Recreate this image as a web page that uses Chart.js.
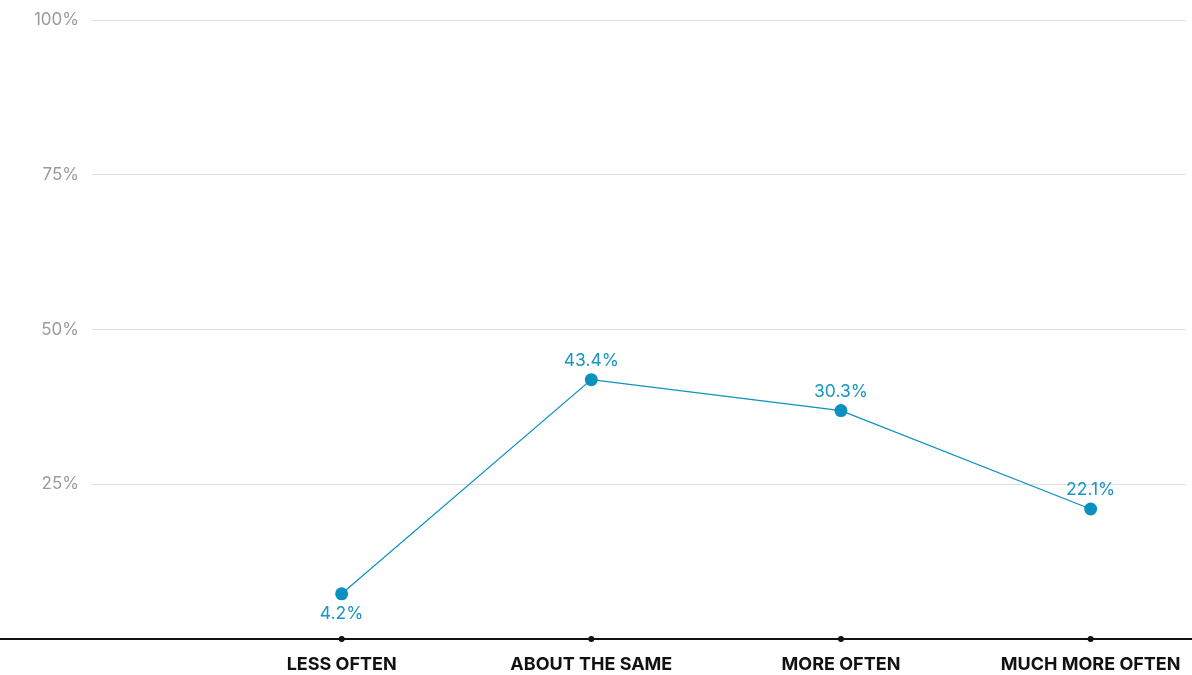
<!DOCTYPE html>
<html>
<head>
<meta charset="utf-8">
<script src="https://cdn.jsdelivr.net/npm/chart.js@4"></script>
<style>
  html, body { margin: 0; padding: 0; background: #fff; }
  #wrap { width: 1192px; height: 675px; }
</style>
</head>
<body>
<div id="wrap"><canvas id="chart"></canvas></div>
<script>
// categories and values
const categories = ['LESS OFTEN', 'ABOUT THE SAME', 'MORE OFTEN', 'MUCH MORE OFTEN'];
const plotted = [7.3, 41.9, 36.9, 21.0];           // where the dots sit
const labelText = ['4.2%', '43.4%', '30.3%', '22.1%']; // what the labels say
const yTicks = [25, 50, 75, 100];

const blue = '#0b91bf';

const points = plotted.map((v, i) => {
  return { x: i + 1, y: v };
});

// baseline + little black dots under each category
const axisLine = {
  id: 'axisLine',
  afterDraw(chart) {
    const ctx = chart.ctx;
    const y0 = chart.scales.y.getPixelForValue(0);
    ctx.save();
    ctx.strokeStyle = '#111';
    ctx.lineWidth = 2;
    ctx.beginPath();
    ctx.moveTo(0, y0);
    ctx.lineTo(chart.width, y0);
    ctx.stroke();
    ctx.fillStyle = '#111';
    categories.forEach((c, i) => {
      const x = chart.scales.x.getPixelForValue(i + 1);
      ctx.beginPath();
      ctx.arc(x, y0, 3, 0, Math.PI * 2);
      ctx.fill();
    });
    ctx.restore();
  }
};

// value labels above the dots (first one below)
const valueLabels = {
  id: 'valueLabels',
  afterDatasetsDraw(chart) {
    const ctx = chart.ctx;
    const meta = chart.getDatasetMeta(0);
    ctx.save();
    ctx.font = '17.5px Inter, "Noto Sans", sans-serif';
    ctx.fillStyle = '#1996c2';
    ctx.textAlign = 'center';
    ctx.textBaseline = 'middle';
    meta.data.forEach((pt, i) => {
      const dy = i === 0 ? 20 : -19;
      ctx.fillText(labelText[i], pt.x, pt.y + dy);
    });
    ctx.restore();
  }
};

const config = {
  type: 'line',
  data: {
    datasets: [{
      data: points,
      borderColor: blue,
      borderWidth: 1.2,
      backgroundColor: blue,
      pointRadius: 6.5,
      pointHoverRadius: 6.5,
      pointBorderWidth: 0,
      tension: 0
    }]
  },
  options: {
    responsive: true,
    maintainAspectRatio: false,
    animation: false,
    layout: { padding: { top: 20, right: 0, left: 0, bottom: 0 } },
    plugins: {
      legend: { display: false },
      tooltip: { enabled: false }
    },
    scales: {
      x: {
        type: 'linear',
        min: 0,
        max: 4.38,
        grid: { display: false },
        border: { display: false },
        afterBuildTicks: s => { s.ticks = categories.map((c, i) => ({ value: i + 1 })); },
        afterFit: s => { s.height = 36; s.paddingLeft = 0; s.paddingRight = 0; },
        ticks: {
          padding: 7,
          color: '#111',
          font: { family: 'Inter, "Noto Sans", sans-serif', size: 18, weight: 'bold' },
          callback: v => categories[v - 1] || ''
        }
      },
      y: {
        min: 0,
        max: 100,
        afterBuildTicks: s => { s.ticks = yTicks.map(v => ({ value: v })); },
        afterFit: s => { s.width = 92; s.paddingTop = 0; s.paddingBottom = 0; },
        grid: { color: '#dddddd', lineWidth: 1, drawTicks: false },
        border: { display: false },
        ticks: {
          padding: 13,
          color: '#9a9a9a',
          font: { family: 'Inter, "Noto Sans", sans-serif', size: 17 },
          callback: v => v + '%'
        }
      }
    }
  },
  plugins: [axisLine, valueLabels]
};

window.onload = function() {
  const ctx = document.getElementById('chart').getContext('2d');
  window.myLine = new Chart(ctx, config);
};
</script>
</body>
</html>
